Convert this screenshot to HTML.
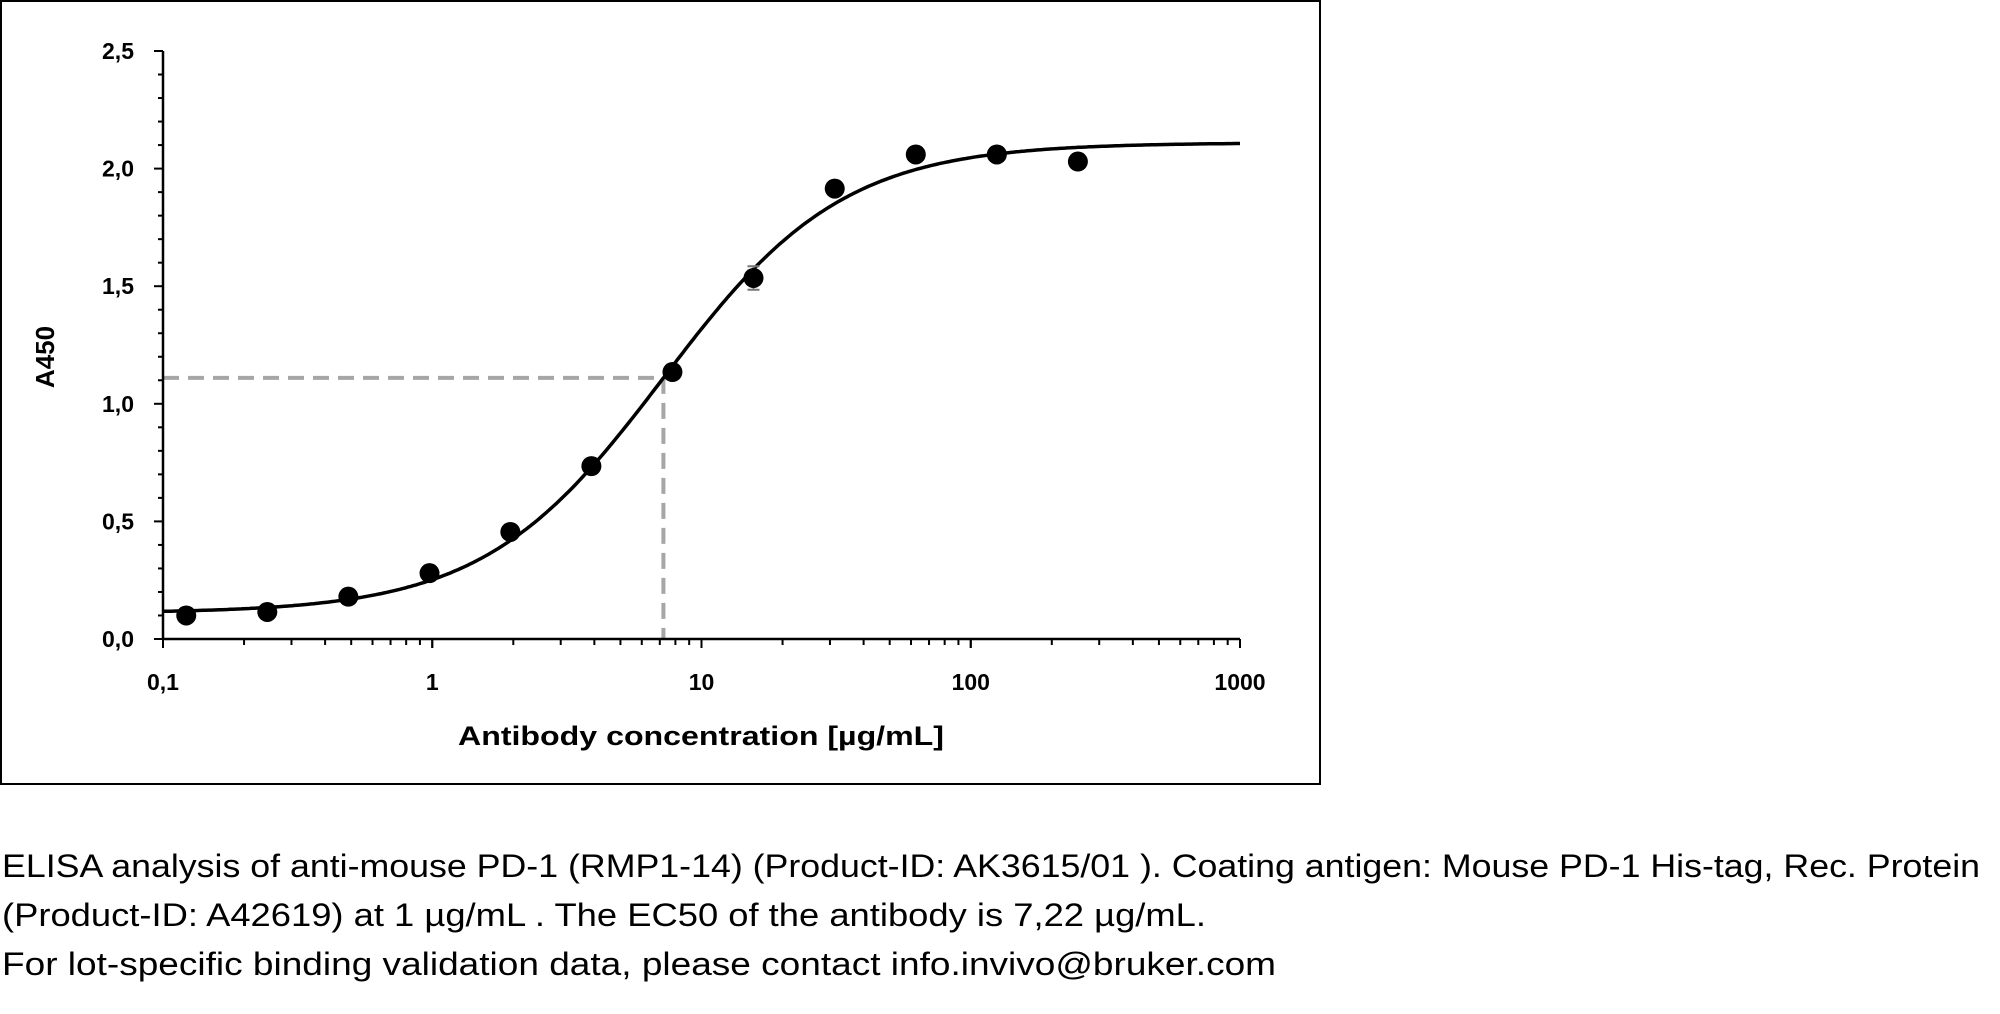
<!DOCTYPE html>
<html><head><meta charset="utf-8"><style>
body{margin:0;background:#fff;}
svg{display:block;font-family:"Liberation Sans",sans-serif;}
</style></head><body>
<svg id="chart" width="2000" height="1014" xmlns="http://www.w3.org/2000/svg">
<rect x="1" y="1" width="1319" height="783" fill="#fff" stroke="#000" stroke-width="2"/>
<g id="grid"></g>
<text x="54" y="357" transform="rotate(-90 54 357)" text-anchor="middle" font-size="26" font-weight="bold">A450</text>
<text x="701" y="745" text-anchor="middle" font-size="27" font-weight="bold" textLength="486" lengthAdjust="spacingAndGlyphs">Antibody concentration [µg/mL]</text>
<text x="2" y="877" font-size="32" textLength="1978" lengthAdjust="spacingAndGlyphs">ELISA analysis of anti-mouse PD-1 (RMP1-14) (Product-ID: AK3615/01 ). Coating antigen: Mouse PD-1 His-tag, Rec. Protein</text>
<text x="2" y="926" font-size="32" textLength="1204" lengthAdjust="spacingAndGlyphs">(Product-ID: A42619) at 1 µg/mL . The EC50 of the antibody is 7,22 µg/mL.</text>
<text x="2" y="975" font-size="32" textLength="1274" lengthAdjust="spacingAndGlyphs">For lot-specific binding validation data, please contact info.invivo@bruker.com</text>
</svg>
<script>
const concentrations=[0.122,0.244,0.488,0.977,1.95,3.9,7.8,15.6,31.25,62.5,125,250];
const absorbance=[0.10,0.115,0.18,0.28,0.455,0.735,1.135,1.535,1.915,2.06,2.06,2.03];
const errors=[0,0,0,0,0,0,0,0.05,0,0,0,0];
const fitParams=[0.11,2.11,7.22,1.3];
const ec50=7.22;
const ec50Level=1.11;
const yTicks=[0,0.5,1,1.5,2,2.5];
const yTickLabels=["0,0","0,5","1,0","1,5","2,0","2,5"];
const xTicks=[0.1,1,10,100,1000];
const xTickLabels=["0,1","1","10","100","1000"];

const NS="http://www.w3.org/2000/svg";
const gEl=document.getElementById('grid');
const X0=163,X1=1240,Y0=639,Y1=51;
const xs=v=>X0+(Math.log10(v)+1)/4*(X1-X0);
const ys=v=>Y0-v/2.5*(Y0-Y1);
function mk(t,a){const e=document.createElementNS(NS,t);for(const k in a)e.setAttribute(k,a[k]);gEl.appendChild(e);return e;}

let dh=mk('line',{x1:X0,x2:xs(ec50),y1:ys(ec50Level),y2:ys(ec50Level),stroke:'#a6a6a6','stroke-width':4,'stroke-dasharray':'16 9'});


let dv=mk('line',{x1:xs(ec50),x2:xs(ec50),y1:ys(ec50Level),y2:Y0,stroke:'#a6a6a6','stroke-width':4,'stroke-dasharray':'16 9'});



let ya=mk('line',{x1:X0,x2:X0,y1:Y1,y2:Y0,stroke:'#000','stroke-width':2.5});


let xa=mk('line',{x1:X0,x2:X1,y1:Y0,y2:Y0,stroke:'#000','stroke-width':2.5});


for(let i=0;i<=25;i++){const v=i/10;const major=i%5===0;
 mk('line',{x1:X0-(major?9:5),x2:X0,y1:ys(v),y2:ys(v),stroke:'#000','stroke-width':2});}
yTicks.forEach((v,i)=>{const t=mk('text',{x:134,y:ys(v)+8,'text-anchor':'end','font-size':23,'font-weight':'bold'});t.textContent=yTickLabels[i];
 
 });
for(let dec=-1;dec<3;dec++)for(let k=1;k<=10;k++){const v=k*Math.pow(10,dec);const major=k===1||k===10;
 mk('line',{x1:xs(v),x2:xs(v),y1:Y0,y2:Y0+(major?9:6),stroke:'#000','stroke-width':2});}
xTicks.forEach((v,i)=>{const t=mk('text',{x:xs(v),y:690,'text-anchor':'middle','font-size':23,'font-weight':'bold'});t.textContent=xTickLabels[i];
 
 });

const fBot=fitParams[0],fTop=fitParams[1],fC50=fitParams[2],fHill=fitParams[3];
let pathD='';for(let i=0;i<=400;i++){const lx=-1+i/400*4;const x=Math.pow(10,lx);const r=Math.pow(x/fC50,fHill);const y=fBot+(fTop-fBot)*r/(1+r);pathD+=(i?'L':'M')+xs(x).toFixed(1)+' '+ys(y).toFixed(1);}
let cp=mk('path',{d:pathD,fill:'none',stroke:'#000','stroke-width':3.5});



concentrations.forEach((c,i)=>{
 if(errors[i]>0){const eb=mk('path',{d:`M${xs(c)-6} ${ys(absorbance[i]+errors[i])}h12M${xs(c)} ${ys(absorbance[i]+errors[i])}V${ys(absorbance[i]-errors[i])}M${xs(c)-6} ${ys(absorbance[i]-errors[i])}h12`,stroke:'#777','stroke-width':2,fill:'none'});
  
  }
 const pt=mk('circle',{cx:xs(c),cy:ys(absorbance[i]),r:10,fill:'#000'});
 
 
});
</script>
</body></html>
